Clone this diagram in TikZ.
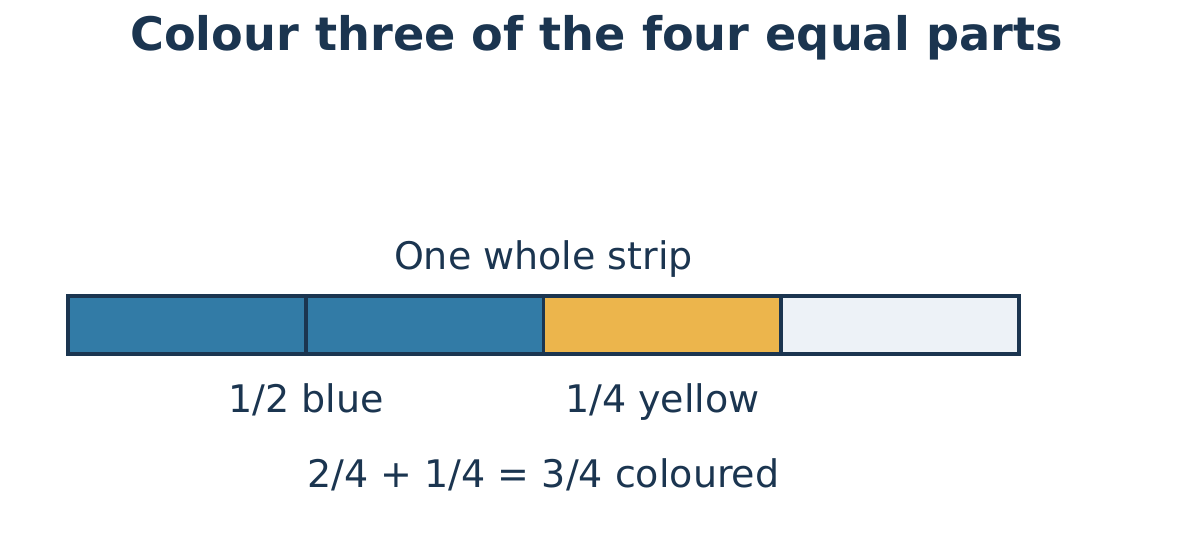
\documentclass[tikz,border=0pt]{standalone}
\usepackage{fontspec}
\setmainfont{DejaVu Sans}
\usepackage{tikz}
\usetikzlibrary{calc}
\definecolor{navy}{HTML}{1B3550}
\definecolor{partblue}{HTML}{327BA6}
\definecolor{partyellow}{HTML}{ECB54C}
\definecolor{partempty}{HTML}{EDF2F7}

\begin{document}
\begin{tikzpicture}[x=1pt,y=-1pt]
\tikzstyle{every node}=[text=navy,inner sep=0pt]
\tikzstyle{part}=[draw=navy,line width=3.6pt,minimum width=237.75pt,minimum height=58pt]
\tikzstyle{label}=[anchor=base,font=\fontsize{38}{44}\selectfont]
\useasboundingbox (0,0) rectangle (1192,538);
\node[anchor=base,font=\bfseries\fontsize{46.2}{52}\selectfont] (title) at (596.5,50) {Colour three of the four equal parts};
\node[part,fill=partblue] (p1) at (186.9,325) {};
\node[part,fill=partblue] (p2) at (424.6,325) {};
\node[part,fill=partyellow] (p3) at (662.4,325) {};
\node[part,fill=partempty] (p4) at (900.1,325) {};
\node[label] (whole) at (543.5,269) {One whole strip};
\node[label] (blue) at (306,412) {1/2 blue};
\node[label] (yellow) at (662.4,412) {1/4 yellow};
\node[label] (sum) at (543.5,487.5) {2/4 + 1/4 = 3/4 coloured};
\end{tikzpicture}
\end{document}
